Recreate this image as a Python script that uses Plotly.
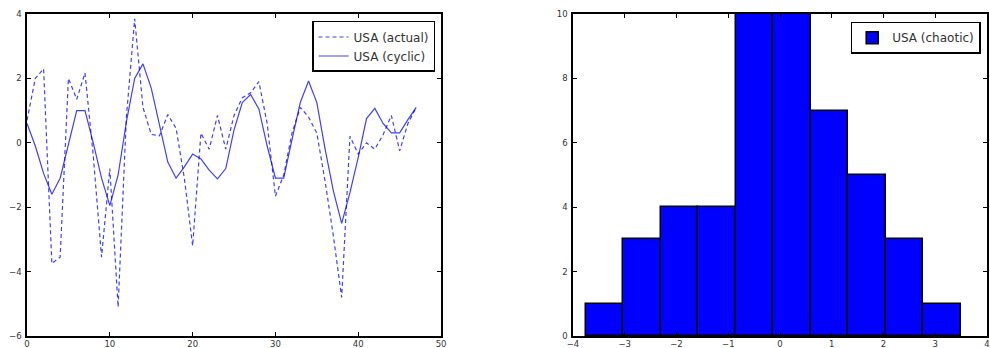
import plotly.graph_objects as go

# Observation index and the two USA series
t = list(range(48))
usa_actual = [0.7, 2.0, 2.3, -3.75, -3.55, 2.0, 1.35, 2.17, -0.4, -3.55,
              -0.8, -5.1, 0.8, 3.85, 1.1, 0.26, 0.22, 0.88, 0.45, -1.1,
              -3.2, 0.3, -0.2, 0.85, -0.2, 0.85, 1.4, 1.55, 1.9, 0.6,
              -1.66, -1.0, 0.3, 1.1, 0.8, 0.3, -1.2, -2.9, -4.8, 0.2,
              -0.35, 0.0, -0.2, 0.25, 0.85, -0.25, 0.6, 1.1]
usa_cyclic = [0.6, -0.1, -0.95, -1.6, -1.1, 0.0, 1.0, 1.0, 0.0, -1.1,
              -1.95, -1.0, 0.65, 2.0, 2.45, 1.7, 0.5, -0.6, -1.1, -0.75,
              -0.35, -0.5, -0.85, -1.12, -0.8, 0.4, 1.25, 1.5, 1.05, -0.1,
              -1.1, -1.1, 0.1, 1.25, 1.92, 1.25, -0.2, -1.5, -2.5, -1.55,
              -0.45, 0.75, 1.07, 0.6, 0.31, 0.31, 0.72, 1.1]

# Histogram of the chaotic component
bin_edges = [-3.755, -3.03, -2.306, -1.581, -0.857, -0.132, 0.592,
             1.317, 2.041, 2.766, 3.49]
bin_counts = [1, 3, 4, 4, 10, 10, 7, 5, 3, 1]

left_xticks = [0, 10, 20, 30, 40, 50]
left_yticks = [-6, -4, -2, 0, 2, 4]
right_xticks = [-4, -3, -2, -1, 0, 1, 2, 3, 4]
right_yticks = [0, 2, 4, 6, 8, 10]

centers = [(a + b) / 2 for a, b in zip(bin_edges[:-1], bin_edges[1:])]
widths = [b - a for a, b in zip(bin_edges[:-1], bin_edges[1:])]

BLUE = "#0000ff"
FONT = "DejaVu Sans"

fig = go.Figure()
fig.add_trace(go.Scatter(
    x=t, y=usa_actual, mode="lines", name="USA (actual)",
    line=dict(color=BLUE, width=1.2, dash="4px,3px"), opacity=0.75,
    xaxis="x", yaxis="y", legend="legend"))
fig.add_trace(go.Scatter(
    x=t, y=usa_cyclic, mode="lines", name="USA (cyclic)",
    line=dict(color=BLUE, width=1.2), opacity=0.75,
    xaxis="x", yaxis="y", legend="legend"))
fig.add_trace(go.Bar(
    x=centers, y=bin_counts, width=widths, name="USA (chaotic)",
    marker=dict(color=BLUE, line=dict(color="black", width=1.5)),
    xaxis="x2", yaxis="y2", legend="legend2"))

axis_common = dict(
    showline=True, linecolor="black", linewidth=1.5, mirror="ticks",
    ticks="inside", ticklen=4, tickwidth=1.2, tickcolor="black",
    showgrid=False, zeroline=False, automargin=False,
    tickfont=dict(family=FONT, size=8.5, color="#333"),
)
xaxis_extra = dict(ticklabelstandoff=-1)
yaxis_extra = dict(ticklabelstandoff=2)

fig.update_layout(
    width=990, height=348,
    margin=dict(l=0, r=0, t=0, b=0),
    paper_bgcolor="white", plot_bgcolor="white",
    bargap=0,
    xaxis=dict(domain=[0.0273, 0.4455], range=[0, 50], tickvals=left_xticks,
               anchor="y", **axis_common, **xaxis_extra),
    yaxis=dict(domain=[0.0345, 0.9598], range=[-6, 4], tickvals=left_yticks,
               anchor="x", **axis_common, **yaxis_extra),
    xaxis2=dict(domain=[0.5788, 0.997], range=[-4, 4], tickvals=right_xticks,
                anchor="y2", **axis_common, **xaxis_extra),
    yaxis2=dict(domain=[0.0345, 0.9598], range=[0, 10], tickvals=right_yticks,
                anchor="x2", **axis_common, **yaxis_extra),
    legend=dict(x=0.4394, y=0.9397, xanchor="right", yanchor="top",
                bgcolor="white", bordercolor="black", borderwidth=1.5,
                font=dict(family=FONT, size=12, color="#333"),
                itemwidth=30, tracegroupgap=0),
    legend2=dict(x=0.9906, y=0.9376, xanchor="right", yanchor="top",
                 bgcolor="white", bordercolor="black", borderwidth=1.5,
                 font=dict(family=FONT, size=12, color="#333"),
                 itemwidth=30),
    showlegend=True,
)

fig.write_html("out.html")
